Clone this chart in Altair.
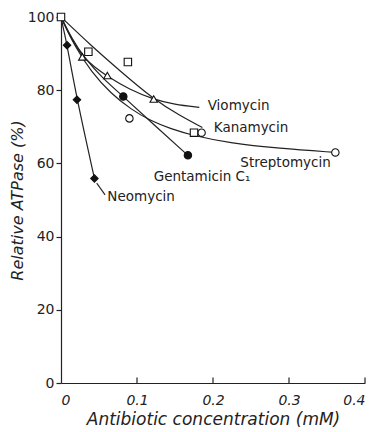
import altair as alt
import pandas as pd

# ---- measured points (x: mM, y: relative ATPase %) ----
neo_x = [0.008, 0.021, 0.044]
neo_y = [92.3, 77.4, 55.9]
gen_x = [0.082, 0.167]
gen_y = [78.3, 62.2]
str_x = [0.090, 0.185, 0.361]
str_y = [72.3, 68.4, 63.0]
kan_x = [0.0, 0.036, 0.088, 0.175]
kan_y = [100.0, 90.5, 87.7, 68.4]
vio_x = [0.028, 0.061, 0.122]
vio_y = [89.1, 84.0, 77.6]

# ---- drawn curves ----
neo_cx = [0.0, 0.004, 0.008, 0.021, 0.044]
neo_cy = [100.0, 96.0, 92.3, 77.4, 55.9]
gen_cx = [0.0, 0.014, 0.031, 0.056, 0.082, 0.123, 0.167]
gen_cy = [100.0, 94.2, 88.7, 83.0, 78.3, 70.4, 62.2]
str_cx = [0.0, 0.018, 0.040, 0.066, 0.092, 0.118, 0.145, 0.172, 0.221, 0.287, 0.361]
str_cy = [100.0, 92.0, 85.0, 79.0, 74.8, 71.6, 69.4, 67.7, 65.6, 64.1, 63.0]
kan_cx = [0.0, 0.038, 0.077, 0.122, 0.156, 0.186]
kan_cy = [100.0, 92.5, 85.4, 77.5, 73.1, 69.8]
vio_cx = [0.0, 0.011, 0.027, 0.044, 0.061, 0.090, 0.122, 0.149, 0.182]
vio_cy = [100.0, 95.0, 89.5, 86.3, 83.8, 80.2, 77.5, 76.1, 75.3]

# ---- labels ----
lab_text = ["Viomycin", "Kanamycin", "Streptomycin", "Gentamicin C\u2081", "Neomycin"]
lab_x = [0.193, 0.201, 0.236, 0.122, 0.061]
lab_y = [75.7, 69.8, 60.2, 56.2, 50.8]

# Neomycin leader line
lead_x = [0.047, 0.058]
lead_y = [54.6, 51.4]

x_ticks = [0.1, 0.2, 0.3, 0.4]

series = [
    ("Neomycin", neo_x, neo_y, neo_cx, neo_cy),
    ("Gentamicin", gen_x, gen_y, gen_cx, gen_cy),
    ("Streptomycin", str_x, str_y, str_cx, str_cy),
    ("Kanamycin", kan_x, kan_y, kan_cx, kan_cy),
    ("Viomycin", vio_x, vio_y, vio_cx, vio_cy),
]
shape_map = {"Neomycin": "diamond", "Gentamicin": "circle", "Streptomycin": "circle",
             "Kanamycin": "square", "Viomycin": "triangle-up"}
filled_map = {"Neomycin": True, "Gentamicin": True, "Streptomycin": False,
              "Kanamycin": False, "Viomycin": False}

pts_rows, curve_rows = [], []
for name, xs_, ys_, cxs, cys in series:
    for a, b in zip(xs_, ys_):
        pts_rows.append({"s": name, "x": a, "y": b, "shape": shape_map[name],
                         "fill": "#111" if filled_map[name] else "white"})
    for i, (a, b) in enumerate(zip(cxs, cys)):
        curve_rows.append({"s": name, "x": a, "y": b, "o": i})
pts = pd.DataFrame(pts_rows)
curves = pd.DataFrame(curve_rows)
labels = pd.DataFrame({"t": lab_text, "x": lab_x, "y": lab_y})
lead = pd.DataFrame({"x": lead_x, "y": lead_y, "o": [0, 1]})
ticks = pd.DataFrame({"x": x_ticks, "y0": [0.0] * 4, "y1": [1.5] * 4})

FONT = "DejaVu Sans"
xs = alt.Scale(domain=[0, 0.4], nice=False, zero=False)
ys = alt.Scale(domain=[0, 100], nice=False)

xax = alt.Axis(values=[0, 0.1, 0.2, 0.3, 0.4], format="~g", ticks=False, grid=False,
               domainColor="#222", domainWidth=1.2, labelFont=FONT, labelFontSize=14,
               labelFontStyle="italic", labelColor="#222", labelPadding=10,
               title="Antibiotic concentration (mM)", titleFont=FONT, titleFontSize=17,
               titleFontStyle="italic", titleFontWeight="normal", titleColor="#222",
               titlePadding=4)
yax = alt.Axis(values=[0, 20, 40, 60, 80, 100], ticks=True, tickSize=5, tickColor="#222",
               tickWidth=1.2, grid=False, domainColor="#222", domainWidth=1.2,
               labelFont=FONT, labelFontSize=14, labelColor="#222", labelPadding=2,
               title="Relative ATPase (%)", titleFont=FONT, titleFontSize=16,
               titleFontStyle="italic", titleFontWeight="normal", titleColor="#222",
               titlePadding=2)

base_curves = alt.Chart(curves).mark_line(interpolate="basis", color="#222",
                                          strokeWidth=1.2).encode(
    x=alt.X("x:Q", scale=xs, axis=xax),
    y=alt.Y("y:Q", scale=ys, axis=yax),
    detail="s:N", order="o:Q")

leader = alt.Chart(lead).mark_line(color="#222", strokeWidth=1.1).encode(
    x=alt.X("x:Q", scale=xs), y=alt.Y("y:Q", scale=ys), order="o:Q")

tick_marks = alt.Chart(ticks).mark_rule(color="#222", strokeWidth=1.2).encode(
    x=alt.X("x:Q", scale=xs), y=alt.Y("y0:Q", scale=ys), y2="y1:Q")

points = alt.Chart(pts).mark_point(size=55, strokeWidth=1.1, opacity=1,
                                   stroke="#111").encode(
    x=alt.X("x:Q", scale=xs), y=alt.Y("y:Q", scale=ys),
    shape=alt.Shape("shape:N", scale=None),
    fill=alt.Fill("fill:N", scale=None))

text = alt.Chart(labels).mark_text(align="left", baseline="middle", font=FONT,
                                   fontSize=13.5, color="#222", fontWeight=500).encode(
    x=alt.X("x:Q", scale=xs), y=alt.Y("y:Q", scale=ys), text="t:N")

chart = alt.layer(base_curves, leader, tick_marks, points, text).properties(
    width=304, height=366,
    padding={"left": 61, "top": 17, "right": 16, "bottom": 49},
    autosize=alt.AutoSizeParams(type="none"),
    background="white",
).configure_view(stroke=None)

chart.save("out.html", embed_options={"renderer": "svg", "actions": False})
